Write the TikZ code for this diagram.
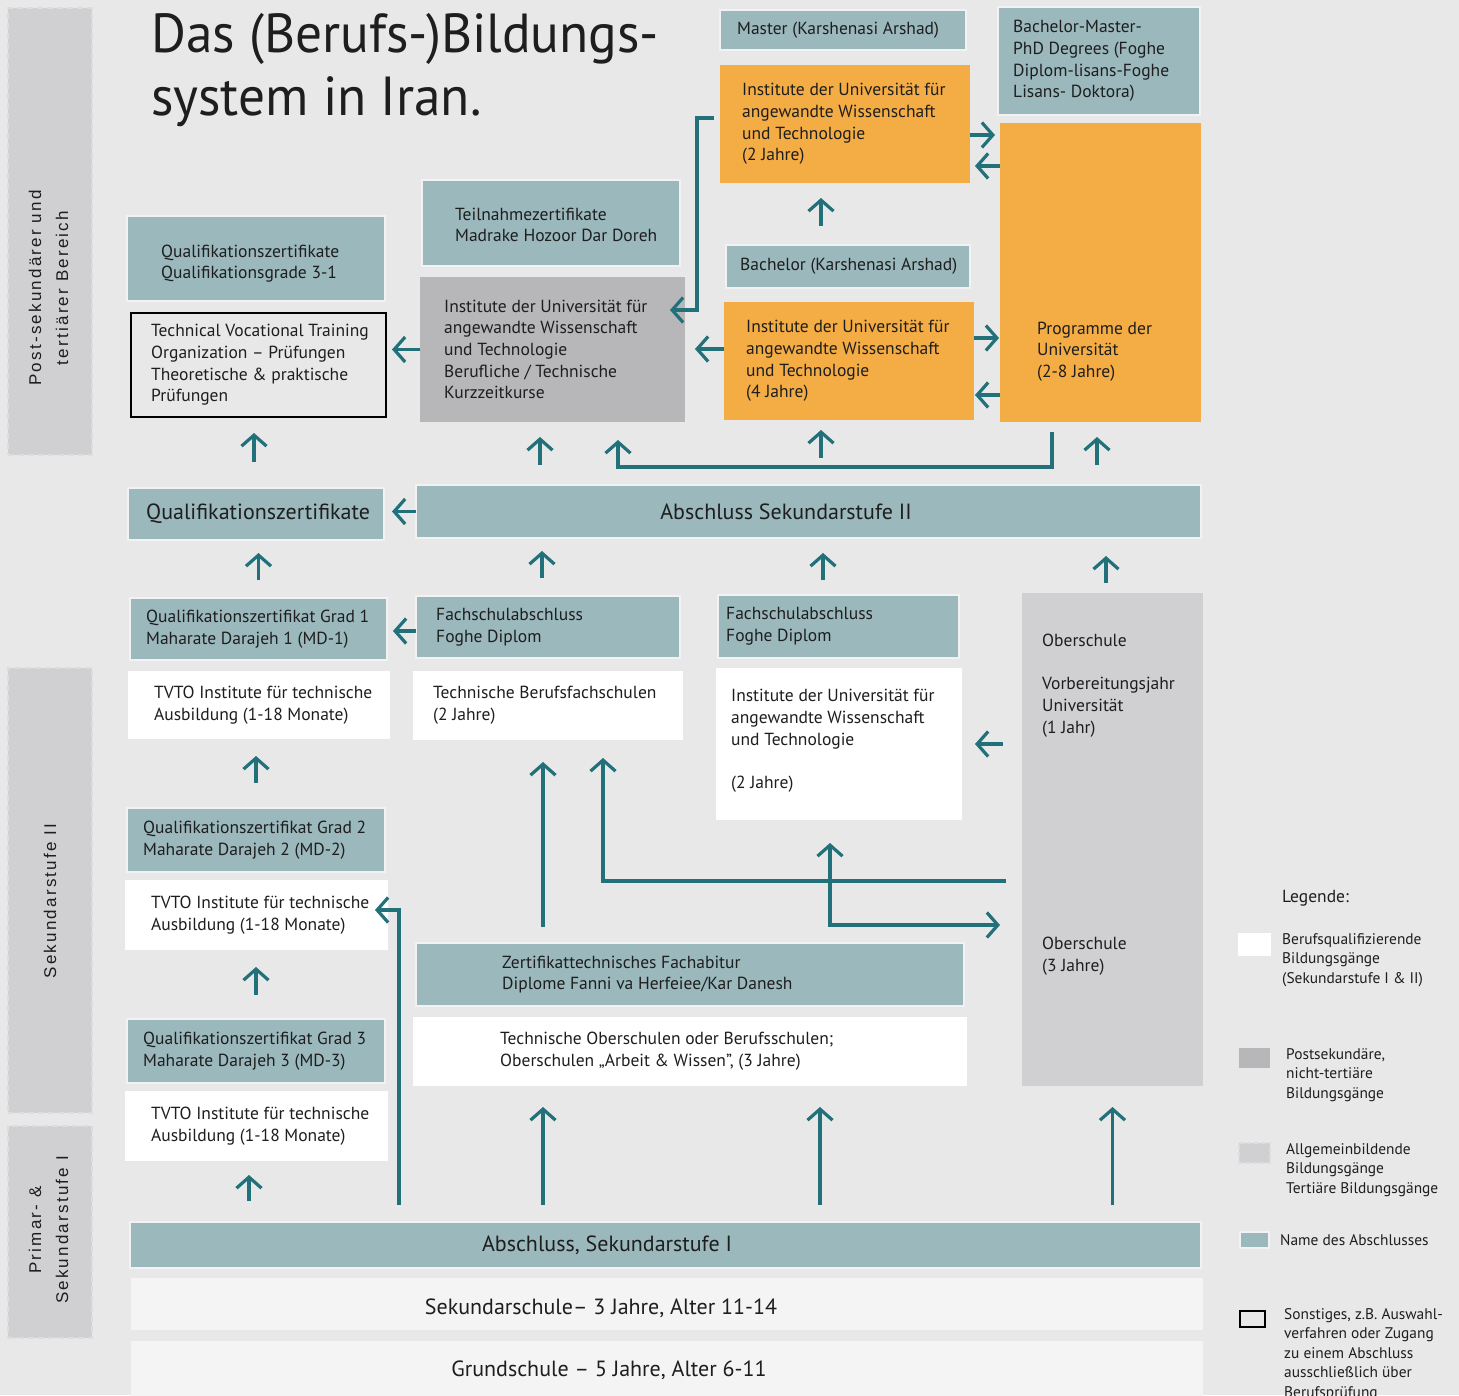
\documentclass[tikz,border=0pt]{standalone}
\usepackage{fontspec}
\setmainfont{PT Sans}
\newfontfamily\titlefont{PT Sans}[FakeStretch=0.97]
\newfontfamily\sidefont{Liberation Sans}[LetterSpace=13]
\usetikzlibrary{arrows.meta, positioning}
\definecolor{bgcol}{HTML}{E8E8E8}
\definecolor{tealcol}{HTML}{9BB8BD}
\definecolor{halocol}{HTML}{F2F2F2}
\definecolor{orangecol}{HTML}{F4AC45}
\definecolor{postcol}{HTML}{B7B7B9}
\definecolor{gencol}{HTML}{D0D0D2}
\definecolor{gendash}{HTML}{DDDDDF}
\definecolor{basecol}{HTML}{F4F4F4}
\definecolor{arrowcol}{HTML}{22717A}
\definecolor{inkcol}{HTML}{1E1E1E}

\begin{document}
\begin{tikzpicture}[
    x=1pt, y=-1pt,
    >={Straight Barb[length=11pt, width=25pt]},
    font=\fontsize{17.5}{21.7}\selectfont,
    teal_style/.style={fill=tealcol, draw=halocol, line width=2.5pt, inner sep=0pt, outer sep=0pt},
    orange_style/.style={fill=orangecol, inner sep=0pt, outer sep=0pt},
    post_style/.style={fill=postcol, inner sep=0pt, outer sep=0pt},
    gen_style/.style={fill=gencol, inner sep=0pt, outer sep=0pt},
    white_style/.style={fill=white, inner sep=0pt, outer sep=0pt},
    base_style/.style={fill=basecol, inner sep=0pt, outer sep=0pt},
    exam_style/.style={draw=black, line width=2.6pt, inner sep=0pt, outer sep=0pt},
    side_style/.style={fill=gencol, draw=gendash, dashed, dash pattern=on 6pt off 4pt, line width=2pt, inner sep=0pt, outer sep=0pt},
    txt/.style={anchor=west, align=left, inner sep=0pt, text=inkcol},
    txt_big/.style={txt, font=\fontsize{22}{26}\selectfont},
    side_txt/.style={rotate=90, align=center, inner sep=0pt, text=inkcol, font=\sidefont\fontsize{17}{27}\selectfont},
    leg_txt/.style={anchor=north west, align=left, inner sep=0pt, text=inkcol, font=\fontsize{15.4}{19.5}\selectfont},
    arr/.style={->, draw=arrowcol, line width=3.2pt}
]

    % Background
    \fill[bgcol] (0,0) rectangle (1459,1395);
    \useasboundingbox (0,0) rectangle (1459,1395);

    % --- SIDE BARS ---
    \node[side_style, minimum width=84pt, minimum height=447pt] (bar_post) at (50,231.5) {};
    \node[side_style, minimum width=84pt, minimum height=445pt] (bar_sek2) at (50,890.5) {};
    \node[side_style, minimum width=84pt, minimum height=212pt] (bar_sek1) at (50,1232) {};
    \node[side_txt] (bar_post_t) at ([shift={(-1.5,56.5)}]bar_post.center) {Post-sekundärer und\\tertiärer Bereich};
    \node[side_txt] (bar_sek2_t) at ([shift={(0,10.5)}]bar_sek2.center) {Sekundarstufe II};
    \node[side_txt] (bar_sek1_t) at ([shift={(-1.5,-2)}]bar_sek1.center) {Primar- \&\\Sekundarstufe I};

    % Title
    \node[anchor=north west, align=left, inner sep=0pt, text=inkcol, font=\titlefont\fontsize{55}{63}\selectfont] (title) at (151,13) {Das (Berufs-)Bildungs-\\system in Iran.};

    % --- POST-SECONDARY / TERTIARY ---
    \node[teal_style, minimum width=246pt, minimum height=40pt] (master) at (843,30) {};
    \node[orange_style, minimum width=250pt, minimum height=118pt] (uni_m) at (845,124) {};
    \node[teal_style, minimum width=202pt, minimum height=108pt] (bmp) at (1099,61) {};
    \node[orange_style, minimum width=201pt, minimum height=299pt] (prog) at (1100.5,272.5) {};
    \node[teal_style, minimum width=244pt, minimum height=43pt] (bach) at (848,266.5) {};
    \node[orange_style, minimum width=250pt, minimum height=118pt] (uni_b) at (849,361) {};
    \node[teal_style, minimum width=258pt, minimum height=86pt] (teil) at (551,223) {};
    \node[post_style, minimum width=265pt, minimum height=145pt] (kurz) at (552.5,349.5) {};
    \node[teal_style, minimum width=258pt, minimum height=85pt] (qgrad) at (256,258.5) {};
    \node[exam_style, minimum width=255pt, minimum height=104pt] (exam) at (258.5,365) {};

    \node[txt, right=17pt of master.west] (master_t) {Master (Karshenasi Arshad)};
    \node[txt, right=22pt of uni_m.west] (uni_m_t) {Institute der Universität für\\angewandte Wissenschaft\\und Technologie\\(2 Jahre)};
    \node[txt, right=15pt of bmp.west] (bmp_t) {Bachelor-Master-\\PhD Degrees (Foghe\\Diplom-lisans-Foghe\\Lisans- Doktora)};
    \node[txt] (prog_t) at ([shift={(37,79)}]prog.west) {Programme der\\Universität\\(2-8 Jahre)};
    \node[txt, right=14pt of bach.west] (bach_t) {Bachelor (Karshenasi Arshad)};
    \node[txt, right=22pt of uni_b.west] (uni_b_t) {Institute der Universität für\\angewandte Wissenschaft\\und Technologie\\(4 Jahre)};
    \node[txt, right=33pt of teil.west, yshift=-2pt] (teil_t) {Teilnahmezertifikate\\Madrake Hozoor Dar Doreh};
    \node[txt, right=24pt of kurz.west] (kurz_t) {Institute der Universität für\\angewandte Wissenschaft\\und Technologie\\Berufliche / Technische\\Kurzzeitkurse};
    \node[txt, right=34pt of qgrad.west, yshift=-5pt] (qgrad_t) {Qualifikationszertifikate\\Qualifikationsgrade 3-1};
    \node[txt, right=20pt of exam.west] (exam_t) {Technical Vocational Training\\Organization – Prüfungen\\Theoretische \& praktische\\Prüfungen};

    % --- SEKUNDARSTUFE II ---
    \node[teal_style, minimum width=256pt, minimum height=52pt] (qzk) at (256,514) {};
    \node[teal_style, minimum width=785pt, minimum height=53pt] (abs2) at (808.5,511.5) {};
    \node[teal_style, minimum width=257pt, minimum height=62pt] (qg1) at (258.5,629) {};
    \node[teal_style, minimum width=264pt, minimum height=62pt] (fs1) at (548,627) {};
    \node[teal_style, minimum width=241pt, minimum height=63pt] (fs2) at (838.5,626.5) {};
    \node[gen_style, minimum width=181pt, minimum height=493pt] (ober) at (1112.5,839.5) {};
    \node[white_style, minimum width=262pt, minimum height=68pt] (tvto1) at (259,705) {};
    \node[white_style, minimum width=270pt, minimum height=69pt] (tbf) at (548,705.5) {};
    \node[white_style, minimum width=246pt, minimum height=152pt] (uni_w) at (839,744) {};
    \node[teal_style, minimum width=258pt, minimum height=64pt] (qg2) at (256,840) {};
    \node[white_style, minimum width=263pt, minimum height=70pt] (tvto2) at (256.5,915) {};
    \node[teal_style, minimum width=258pt, minimum height=64pt] (qg3) at (256,1051) {};
    \node[white_style, minimum width=263pt, minimum height=70pt] (tvto3) at (256.5,1126) {};
    \node[teal_style, minimum width=548pt, minimum height=63pt] (fach) at (690,974.5) {};
    \node[white_style, minimum width=554pt, minimum height=69pt] (tos) at (690,1051.5) {};

    \node[txt_big, right=18pt of qzk.west] (qzk_t) {Qualifikationszertifikate};
    \node[txt_big, anchor=center] (abs2_t) at ([xshift=-22.5]abs2.center) {Abschluss Sekundarstufe II};
    \node[txt, right=16pt of qg1.west] (qg1_t) {Qualifikationszertifikat Grad 1\\Maharate Darajeh 1 (MD-1)};
    \node[txt, right=20pt of fs1.west] (fs1_t) {Fachschulabschluss\\Foghe Diplom};
    \node[txt, right=8pt of fs2.west] (fs2_t) {Fachschulabschluss\\Foghe Diplom};
    \node[txt] (ober_t1) at ([shift={(20,-154)}]ober.west) {Oberschule\\[21.7pt]Vorbereitungsjahr\\Universität\\(1 Jahr)};
    \node[txt] (ober_t2) at ([shift={(20,117)}]ober.west) {Oberschule\\(3 Jahre)};
    \node[txt, right=26pt of tvto1.west] (tvto1_t) {TVTO Institute für technische\\Ausbildung (1-18 Monate)};
    \node[txt, right=20pt of tbf.west] (tbf_t) {Technische Berufsfachschulen\\(2 Jahre)};
    \node[txt, right=15pt of uni_w.west, yshift=3pt] (uni_w_t) {Institute der Universität für\\angewandte Wissenschaft\\und Technologie\\[21.7pt](2 Jahre)};
    \node[txt, right=16pt of qg2.west] (qg2_t) {Qualifikationszertifikat Grad 2\\Maharate Darajeh 2 (MD-2)};
    \node[txt, right=26pt of tvto2.west] (tvto2_t) {TVTO Institute für technische\\Ausbildung (1-18 Monate)};
    \node[txt, right=16pt of qg3.west] (qg3_t) {Qualifikationszertifikat Grad 3\\Maharate Darajeh 3 (MD-3)};
    \node[txt, right=26pt of tvto3.west] (tvto3_t) {TVTO Institute für technische\\Ausbildung (1-18 Monate)};
    \node[txt, right=86pt of fach.west] (fach_t) {Zertifikattechnisches Fachabitur\\Diplome Fanni va Herfeiee/Kar Danesh};
    \node[txt, right=87pt of tos.west] (tos_t) {Technische Oberschulen oder Berufsschulen;\\Oberschulen „Arbeit \& Wissen”, (3 Jahre)};

    % --- SEKUNDARSTUFE I / PRIMAR ---
    \node[teal_style, minimum width=1071pt, minimum height=46pt] (abs1) at (665.5,1245) {};
    \node[base_style, minimum width=1072pt, minimum height=52pt] (sek) at (667,1304) {};
    \node[base_style, minimum width=1072pt, minimum height=58pt] (grund) at (667,1370) {};
    \node[txt_big, anchor=center] (abs1_t) at ([xshift=-58.5]abs1.center) {Abschluss, Sekundarstufe I};
    \node[txt_big, anchor=center] (sek_t) at ([shift={(-66,4)}]sek.center) {Sekundarschule– 3 Jahre, Alter 11-14};
    \node[txt_big, anchor=center] (grund_t) at ([xshift=-58]grund.center) {Grundschule – 5 Jahre, Alter 6-11};

    % --- LEGENDE ---
    \node[txt] (leg_title) at (1282,898) {Legende:};
    \node[white_style, minimum width=33pt, minimum height=23pt] (sw_white) at (1254.5,944.5) {};
    \node[post_style, minimum width=31pt, minimum height=20pt] (sw_post) at (1254.5,1058) {};
    \node[gen_style, draw=gendash, dashed, dash pattern=on 4pt off 3pt, line width=1.5pt, minimum width=31pt, minimum height=20pt] (sw_gen) at (1254.5,1153) {};
    \node[teal_style, minimum width=29pt, minimum height=16pt] (sw_teal) at (1254.5,1240) {};
    \node[exam_style, minimum width=25pt, minimum height=16pt] (sw_exam) at (1252.5,1319) {};
    \node[leg_txt] (sw_white_t) at ([xshift=11]sw_white.north east) {Berufsqualifizierende\\Bildungsgänge\\(Sekundarstufe I \& II)};
    \node[leg_txt] (sw_post_t) at ([xshift=16]sw_post.north east) {Postsekundäre,\\nicht-tertiäre\\Bildungsgänge};
    \node[leg_txt] (sw_gen_t) at ([xshift=16]sw_gen.north east) {Allgemeinbildende\\Bildungsgänge\\Tertiäre Bildungsgänge};
    \node[leg_txt, anchor=west] (sw_teal_t) at ([xshift=11]sw_teal.east) {Name des Abschlusses};
    \node[leg_txt] (sw_exam_t) at ([shift={(19,-3)}]sw_exam.north east) {Sonstiges, z.B. Auswahl-\\verfahren oder Zugang\\zu einem Abschluss\\ausschließlich über\\Berufsprüfung};

    % --- ARROWS: tertiary ---
    \draw[arr, shorten >=6pt] (kurz.west) -- (exam.east |- kurz.west);
    \draw[arr] ([shift={(-6,-6)}]uni_m.west) -- ++(-17,0) |- ([shift={(-15,-39.5)}]kurz.east);
    \draw[arr, shorten >=5pt] ([shift={(0,11)}]uni_m.east) -- ([shift={(0,11)}]uni_m.east -| prog.west);
    \draw[arr, shorten >=5pt] ([shift={(0,42)}]uni_m.east -| prog.west) -- ([shift={(0,42)}]uni_m.east);
    \draw[arr, shorten >=1pt] ([shift={(0,-23)}]uni_b.east) -- ([shift={(0,-23)}]uni_b.east -| prog.west);
    \draw[arr, shorten >=1pt] ([shift={(0,34)}]uni_b.east -| prog.west) -- ([shift={(0,34)}]uni_b.east);
    \draw[arr, shorten <=19pt, shorten >=15pt] ([xshift=-27]bach.north) -- ([xshift=-27]bach.north |- uni_m.south);
    \draw[arr, shorten >=10pt] ([shift={(0,-12)}]uni_b.west) -- ([shift={(0,-12)}]uni_b.west -| kurz.east);

    % Abschluss Sekundarstufe II upwards
    \draw[arr, shorten <=26pt, shorten >=16pt] ([xshift=-2]qzk.north) -- ([xshift=-2]qzk.north |- exam.south);
    \draw[arr, shorten <=20pt, shorten >=15pt] ([xshift=-12.5]kurz.south |- abs2.north) -- ([xshift=-12.5]kurz.south);
    \draw[arr, shorten >=18pt] ([shift={(-48.5,10)}]prog.south) -- ++(0,35) -| ([xshift=65.5]kurz.south);
    \draw[arr, shorten <=27pt, shorten >=10pt] ([xshift=-28]uni_b.south |- abs2.north) -- ([xshift=-28]uni_b.south);
    \draw[arr, shorten <=20pt, shorten >=15pt] ([xshift=-3.5]prog.south |- abs2.north) -- ([xshift=-3.5]prog.south);

    % --- ARROWS: Sekundarstufe II ---
    \draw[arr, shorten >=8pt] (abs2.west) -- (abs2.west -| qzk.east);
    \draw[arr, shorten <=18pt, shorten >=13pt] (qg1.north) -- (qg1.north |- qzk.south);
    \draw[arr, shorten <=18pt, shorten >=13pt] ([xshift=-6]fs1.north) -- ([xshift=-6]fs1.north |- abs2.south);
    \draw[arr, shorten <=15pt, shorten >=15pt] ([xshift=-15.5]fs2.north) -- ([xshift=-15.5]fs2.north |- abs2.south);
    \draw[arr, shorten <=10pt, shorten >=18pt] ([xshift=-6.5]ober.north) -- ([xshift=-6.5]ober.north |- abs2.south);
    \draw[arr, shorten >=6pt] ([shift={(0,4)}]fs1.west) -- ([shift={(0,4)}]fs1.west -| qg1.east);
    \draw[arr, shorten <=19pt, shorten >=13pt] (ober.west |- uni_w.east) -- (uni_w.east);
    \draw[arr, shorten <=25pt, shorten >=17pt] (qg2.north) -- (qg2.north |- tvto1.south);
    \draw[arr, shorten <=24pt, shorten >=17pt] (qg3.north) -- (qg3.north |- tvto2.south);
    \draw[arr, shorten <=16pt, shorten >=22pt] ([xshift=-147]fach.north) -- ([xshift=-147]fach.north |- tbf.south);
    \draw[arr, shorten >=18pt] ([shift={(-16,41.5)}]ober.west) -| ([xshift=55]tbf.south);
    \draw[arr, <->, shorten <=23pt, shorten >=22pt] ([xshift=-9]uni_w.south) |- ([shift={(0,85.5)}]ober.west);

    % --- ARROWS: from Abschluss Sekundarstufe I ---
    \draw[arr, shorten <=21pt, shorten >=14pt] ([xshift=-7.5]tvto3.south |- abs1.north) -- ([xshift=-7.5]tvto3.south);
    \draw[arr, shorten <=17pt] ([xshift=11]tvto2.east |- abs1.north) |- ([shift={(-13,-5)}]tvto2.east);
    \draw[arr, shorten <=17pt, shorten >=21pt] ([xshift=-147]tos.south |- abs1.north) -- ([xshift=-147]tos.south);
    \draw[arr, shorten <=17pt, shorten >=21pt] ([xshift=130]tos.south |- abs1.north) -- ([xshift=130]tos.south);
    \draw[arr, shorten <=17pt, shorten >=21pt] (ober.south |- abs1.north) -- (ober.south);

\end{tikzpicture}
\end{document}
